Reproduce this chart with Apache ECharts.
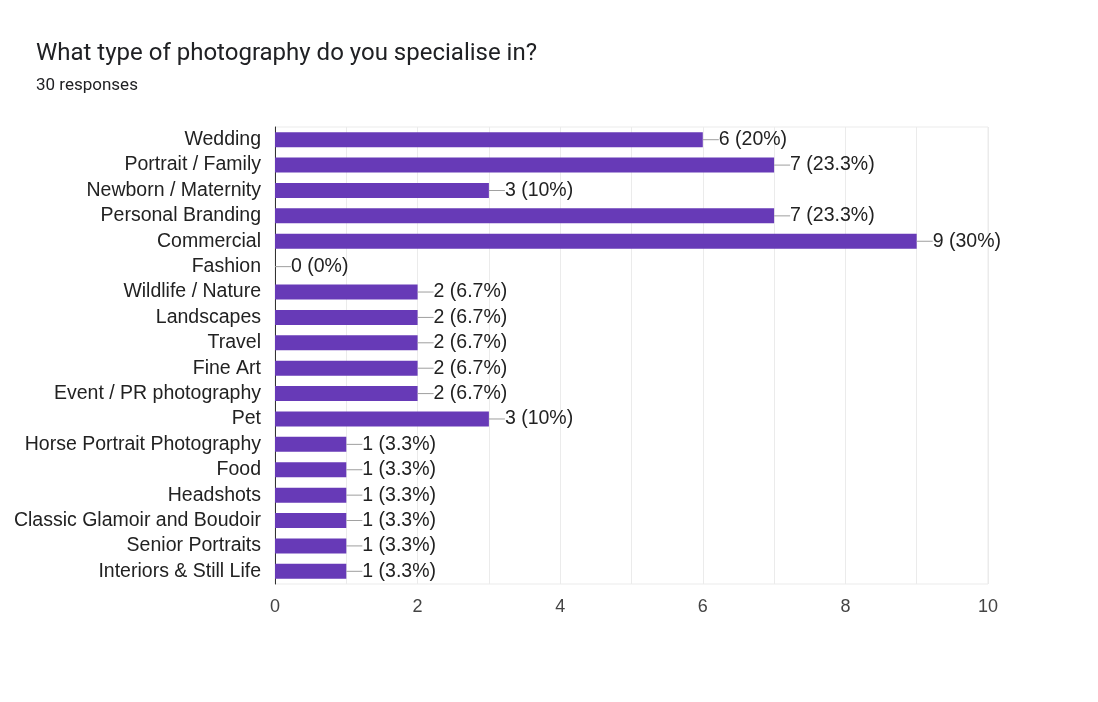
<!DOCTYPE html>
<html>
<head>
<meta charset="utf-8">
<script src="https://cdn.jsdelivr.net/npm/echarts@6/dist/echarts.min.js"></script>
<style>
  html, body { margin: 0; padding: 0; background: #fff; }
  #chart { width: 1098px; height: 702px; }
</style>
</head>
<body>
<div id="chart"></div>
<script>
var categories = ['Wedding', 'Portrait / Family', 'Newborn / Maternity', 'Personal Branding',
  'Commercial', 'Fashion', 'Wildlife / Nature', 'Landscapes', 'Travel', 'Fine Art',
  'Event / PR photography', 'Pet', 'Horse Portrait Photography', 'Food', 'Headshots',
  'Classic Glamoir and Boudoir', 'Senior Portraits', 'Interiors & Still Life'];
var counts = [6, 7, 3, 7, 9, 0, 2, 2, 2, 2, 2, 3, 1, 1, 1, 1, 1, 1];
var percents = ['20%', '23.3%', '10%', '23.3%', '30%', '0%', '6.7%', '6.7%', '6.7%', '6.7%',
  '6.7%', '10%', '3.3%', '3.3%', '3.3%', '3.3%', '3.3%', '3.3%'];
var xTicks = [0, 2, 4, 6, 8, 10];

var chart = echarts.init(document.getElementById('chart'));
chart.setOption({
  animation: false,
  textStyle: { fontFamily: 'Liberation Sans' },
  title: {
    text: 'What type of photography do you specialise in?',
    subtext: '30 responses',
    left: 31,
    top: 37,
    itemGap: 11,
    textStyle: { fontSize: 24, fontWeight: 'normal', color: '#202124', fontFamily: 'Roboto' },
    subtextStyle: { fontSize: 17, color: '#202124', fontFamily: 'Roboto' }
  },
  grid: {
    left: 275, right: 110, top: 127, bottom: 118,
    show: true, borderColor: '#ebebeb', borderWidth: 1
  },
  xAxis: {
    type: 'value',
    min: 0, max: 10, interval: 1,
    axisLine: { show: false },
    axisTick: { show: false },
    axisLabel: {
      fontSize: 18, color: '#444', margin: 14,
      formatter: function (v) { return xTicks.indexOf(v) >= 0 ? String(v) : ''; }
    },
    splitLine: { lineStyle: { color: '#ebebeb' } }
  },
  yAxis: {
    type: 'category',
    inverse: true,
    data: categories,
    axisLine: { lineStyle: { color: '#333' } },
    axisTick: { show: false },
    axisLabel: { fontSize: 19.5, color: '#222', margin: 14, interval: 0 }
  },
  series: [{
    type: 'bar',
    data: counts,
    barWidth: 15,
    itemStyle: { color: '#673ab7' },
    label: {
      show: true,
      position: 'right',
      distance: 0,
      formatter: function (p) {
        return '{l|}{t|' + counts[p.dataIndex] + ' (' + percents[p.dataIndex] + ')}';
      },
      rich: {
        l: { width: 16, height: 1, backgroundColor: '#9e9e9e' },
        t: { fontSize: 19.5, color: '#222', fontFamily: 'Liberation Sans' }
      }
    }
  }]
});
</script>
</body>
</html>
